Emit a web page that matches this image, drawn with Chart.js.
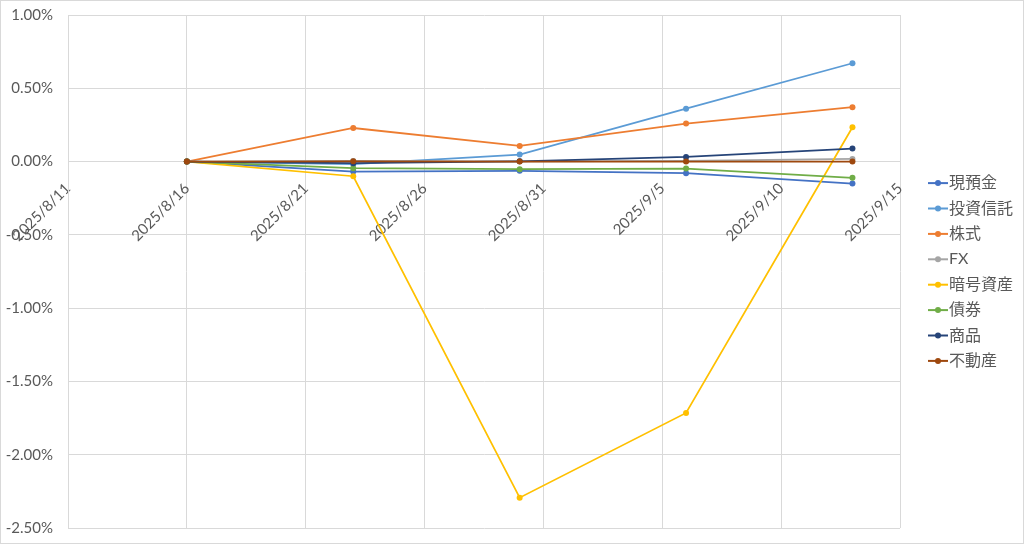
<!DOCTYPE html>
<html>
<head>
<meta charset="utf-8">
<script src="https://cdn.jsdelivr.net/npm/chart.js@4.4.1/dist/chart.umd.min.js"></script>
<style>
  html, body { margin: 0; padding: 0; background: #ffffff; }
  #wrap { width: 1024px; height: 544px; position: relative; }
</style>
</head>
<body>
<div id="wrap"><canvas id="c" width="1024" height="544"></canvas></div>
<script>
// ---- data ----
const xTickLabels = ['2025/8/11', '2025/8/16', '2025/8/21', '2025/8/26', '2025/8/31', '2025/9/5', '2025/9/10', '2025/9/15'];
const pointDates = ['2025/8/16', '2025/8/23', '2025/8/30', '2025/9/6', '2025/9/13'];
const seriesNames = ['現預金', '投資信託', '株式', 'FX', '暗号資産', '債券', '商品', '不動産'];
const cashValues     = [0, -0.068, -0.063, -0.079, -0.150];
const fundValues     = [0, -0.018, 0.048, 0.361, 0.671];
const stockValues    = [0, 0.229, 0.107, 0.259, 0.371];
const fxValues       = [0, 0.004, 0.002, 0.004, 0.018];
const cryptoValues   = [0, -0.100, -2.293, -1.715, 0.234];
const bondValues     = [0, -0.045, -0.052, -0.048, -0.111];
const commodityValues= [0, -0.011, 0.002, 0.032, 0.089];
const realEstateValues=[0, 0.002, 0.000, 0.000, 0.000];
const yTickValues = [1.0, 0.5, 0.0, -0.5, -1.0, -1.5, -2.0, -2.5];

const seriesValues = [cashValues, fundValues, stockValues, fxValues, cryptoValues, bondValues, commodityValues, realEstateValues];
const seriesColors = ['#4472C4', '#5B9BD5', '#ED7D31', '#A5A5A5', '#FFC000', '#70AD47', '#264478', '#9E480E'];

function dayIndex(s) {
  const p = s.split('/').map(Number);
  const base = Date.UTC(2025, 7, 11);
  return Math.round((Date.UTC(p[0], p[1] - 1, p[2]) - base) / 86400000);
}
const xTickDays = xTickLabels.map(dayIndex);
const pointDays = pointDates.map(dayIndex);

const FONT = "Lato, 'Noto Sans CJK JP', sans-serif";
const TEXT = '#595959';
const GRID = '#d9d9d9';

const datasets = seriesNames.map((name, i) => ({
  label: name,
  data: seriesValues[i].map((v, k) => ({ x: pointDays[k], y: v })),
  borderColor: seriesColors[i],
  backgroundColor: seriesColors[i],
  pointBackgroundColor: seriesColors[i],
  pointBorderColor: seriesColors[i],
  pointRadius: 3,
  pointBorderWidth: 0,
  borderWidth: 1.75,
  tension: 0,
  order: seriesNames.length - i
}));

const frameAndLegend = {
  id: 'frameAndLegend',
  afterDraw(chart) {
    const ctx = chart.ctx;
    ctx.save();
    ctx.strokeStyle = GRID;
    ctx.lineWidth = 1;
    ctx.strokeRect(0.5, 0.5, chart.width - 1, chart.height - 1);
    const n = chart.data.datasets.length;
    const step = 25.4;
    const y0 = 272 - step * (n - 1) / 2;
    ctx.font = '16px ' + FONT;
    ctx.textBaseline = 'middle';
    ctx.textAlign = 'left';
    chart.data.datasets.forEach((ds, i) => {
      const y = y0 + i * step;
      ctx.strokeStyle = ds.borderColor;
      ctx.lineWidth = 2;
      ctx.beginPath();
      ctx.moveTo(928, y);
      ctx.lineTo(948, y);
      ctx.stroke();
      ctx.fillStyle = ds.borderColor;
      ctx.beginPath();
      ctx.arc(938, y, 3, 0, Math.PI * 2);
      ctx.fill();
      ctx.fillStyle = TEXT;
      ctx.fillText(ds.label, 949, y);
    });
    ctx.restore();
  }
};

new Chart(document.getElementById('c'), {
  type: 'line',
  data: { datasets },
  options: {
    responsive: false,
    animation: false,
    devicePixelRatio: 1,
    layout: { padding: { top: 15, bottom: 16, left: 0, right: 124 } },
    plugins: { legend: { display: false }, tooltip: { enabled: false } },
    scales: {
      x: {
        type: 'linear',
        position: { y: 0 },
        min: xTickDays[0],
        max: xTickDays[xTickDays.length - 1],
        afterBuildTicks(scale) { scale.ticks = xTickDays.map(v => ({ value: v })); },
        afterFit(scale) { scale.paddingLeft = 0; scale.paddingRight = 0; },
        ticks: {
          autoSkip: false,
          maxRotation: 45,
          minRotation: 45,
          padding: 18,
          color: TEXT,
          font: { family: FONT, size: 15 },
          callback: (v, idx) => xTickLabels[idx]
        },
        grid: { color: GRID, lineWidth: 1, drawTicks: false },
        border: { color: GRID, width: 1 }
      },
      y: {
        type: 'linear',
        min: yTickValues[yTickValues.length - 1],
        max: yTickValues[0],
        afterBuildTicks(scale) { scale.ticks = yTickValues.map(v => ({ value: v })); },
        afterFit(scale) { scale.width = 68; scale.paddingTop = 0; scale.paddingBottom = 0; },
        ticks: {
          padding: 15,
          color: TEXT,
          font: { family: FONT, size: 15 },
          callback: v => v.toFixed(2) + '%'
        },
        grid: { color: GRID, lineWidth: 1, drawTicks: false },
        border: { color: GRID, width: 1 }
      }
    }
  },
  plugins: [frameAndLegend]
});
</script>
</body>
</html>
